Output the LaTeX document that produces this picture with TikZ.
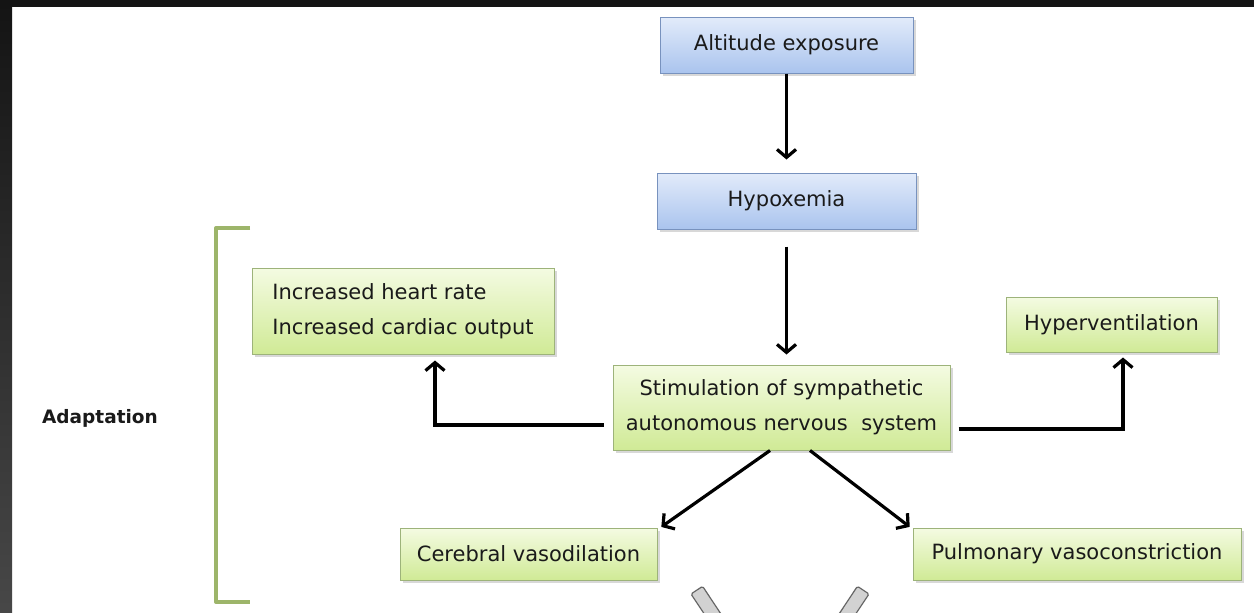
\documentclass[tikz,border=0pt]{standalone}
\usepackage{fontspec}
\setmainfont{DejaVu Sans}
\usetikzlibrary{arrows.meta,shadows,calc}
\definecolor{blueT}{HTML}{E2EBFA}
\definecolor{blueB}{HTML}{AAC4EE}
\definecolor{blueD}{HTML}{7892BE}
\definecolor{greenT}{HTML}{F4FBE2}
\definecolor{greenB}{HTML}{D0EA96}
\definecolor{greenD}{HTML}{9DB37A}
\definecolor{txt}{HTML}{1A1A1A}
\definecolor{brk}{HTML}{9DB56A}
\begin{document}
\begin{tikzpicture}[x=1pt,y=-1pt,
  box/.style={line width=1pt, text=txt, font=\fontsize{21}{35}\selectfont, inner sep=0pt, align=center,
    drop shadow={opacity=0.3, shadow xshift=2.5pt, shadow yshift=-3pt}},
  bluebox/.style={box, top color=blueT, bottom color=blueB, draw=blueD},
  greenbox/.style={box, top color=greenT, bottom color=greenB, draw=greenD},
  arr/.style={line width=3.2pt, -{Straight Barb[length=8pt,width=19pt]}},
  brace/.style={draw=brk, line width=4pt, line join=round},
  grarrow/.style={fill=gray!35, draw=black!60, line width=1.2pt, rounded corners=1.5pt}
]
\useasboundingbox (0,0) rectangle (1254,613);
% background frame
\fill[white] (0,0) rectangle (1254,613);
\fill[black!92] (0,0) rectangle (1254,7);
\shade[top color=black!92, bottom color=black!72] (0,7) rectangle (12,613);

% nodes
\node[bluebox, minimum width=253pt, minimum height=56pt] (alt) at (786.5,45) {Altitude exposure};
\node[bluebox, minimum width=259pt, minimum height=56pt] (hyp) at (786.5,201) {Hypoxemia};
\node[greenbox, minimum width=337pt, minimum height=85pt] (stim) at (781.5,407.5)
  {Stimulation of sympathetic\\autonomous nervous\ \ system};
\node[greenbox, minimum width=302pt, minimum height=86pt, align=left] (hr) at (403,311)
  {Increased heart rate\\Increased cardiac output};
\node[greenbox, minimum width=211pt, minimum height=55pt] (hv) at (1111.5,324.5) {Hyperventilation};
\node[greenbox, minimum width=257pt, minimum height=52pt] (cer) at (528.5,554) {Cerebral vasodilation};
\node[greenbox, minimum width=328pt, minimum height=52pt] (pul) at (1077,554) {Pulmonary vasoconstriction};
\node[font=\bfseries\fontsize{18.5}{22}\selectfont, text=txt] (adapt) at (100,418) {Adaptation};

% connectors
\draw[arr, shorten >=13pt] (alt.south) -- (alt.south |- hyp.north);
\draw[arr, shorten <=17pt, shorten >=10pt] (hyp.south) -- (hyp.south |- stim.north);
\draw[arr, shorten >=6pt] ([xshift=-9pt,yshift=-17.5pt]stim.west) -| ([xshift=32pt]hr.south);
\draw[arr, shorten >=5pt] ([xshift=8pt,yshift=-21.5pt]stim.east) -| ([xshift=11.5pt]hv.south);
\draw[arr, shorten >=1pt] ([xshift=-11.5pt]stim.south) -- ([xshift=3pt]cer.north east);
\draw[arr, shorten >=1pt] ([xshift=28.5pt]stim.south) -- ([xshift=-2pt]pul.north west);

% bracket
\draw[brace] (250,228) -- (216,228) -- (216,602) -- (250,602);

% cut-off grey block arrows at the bottom
\begin{scope}
\clip (0,0) rectangle (1254,613);
\draw[grarrow] (691,594) -- (702.6,586.3) -- (724.6,619.5) -- (713,627) -- cycle;
\draw[grarrow] (869,594) -- (857.4,586.3) -- (835.4,619.5) -- (847,627) -- cycle;
\end{scope}
\end{tikzpicture}
\end{document}
